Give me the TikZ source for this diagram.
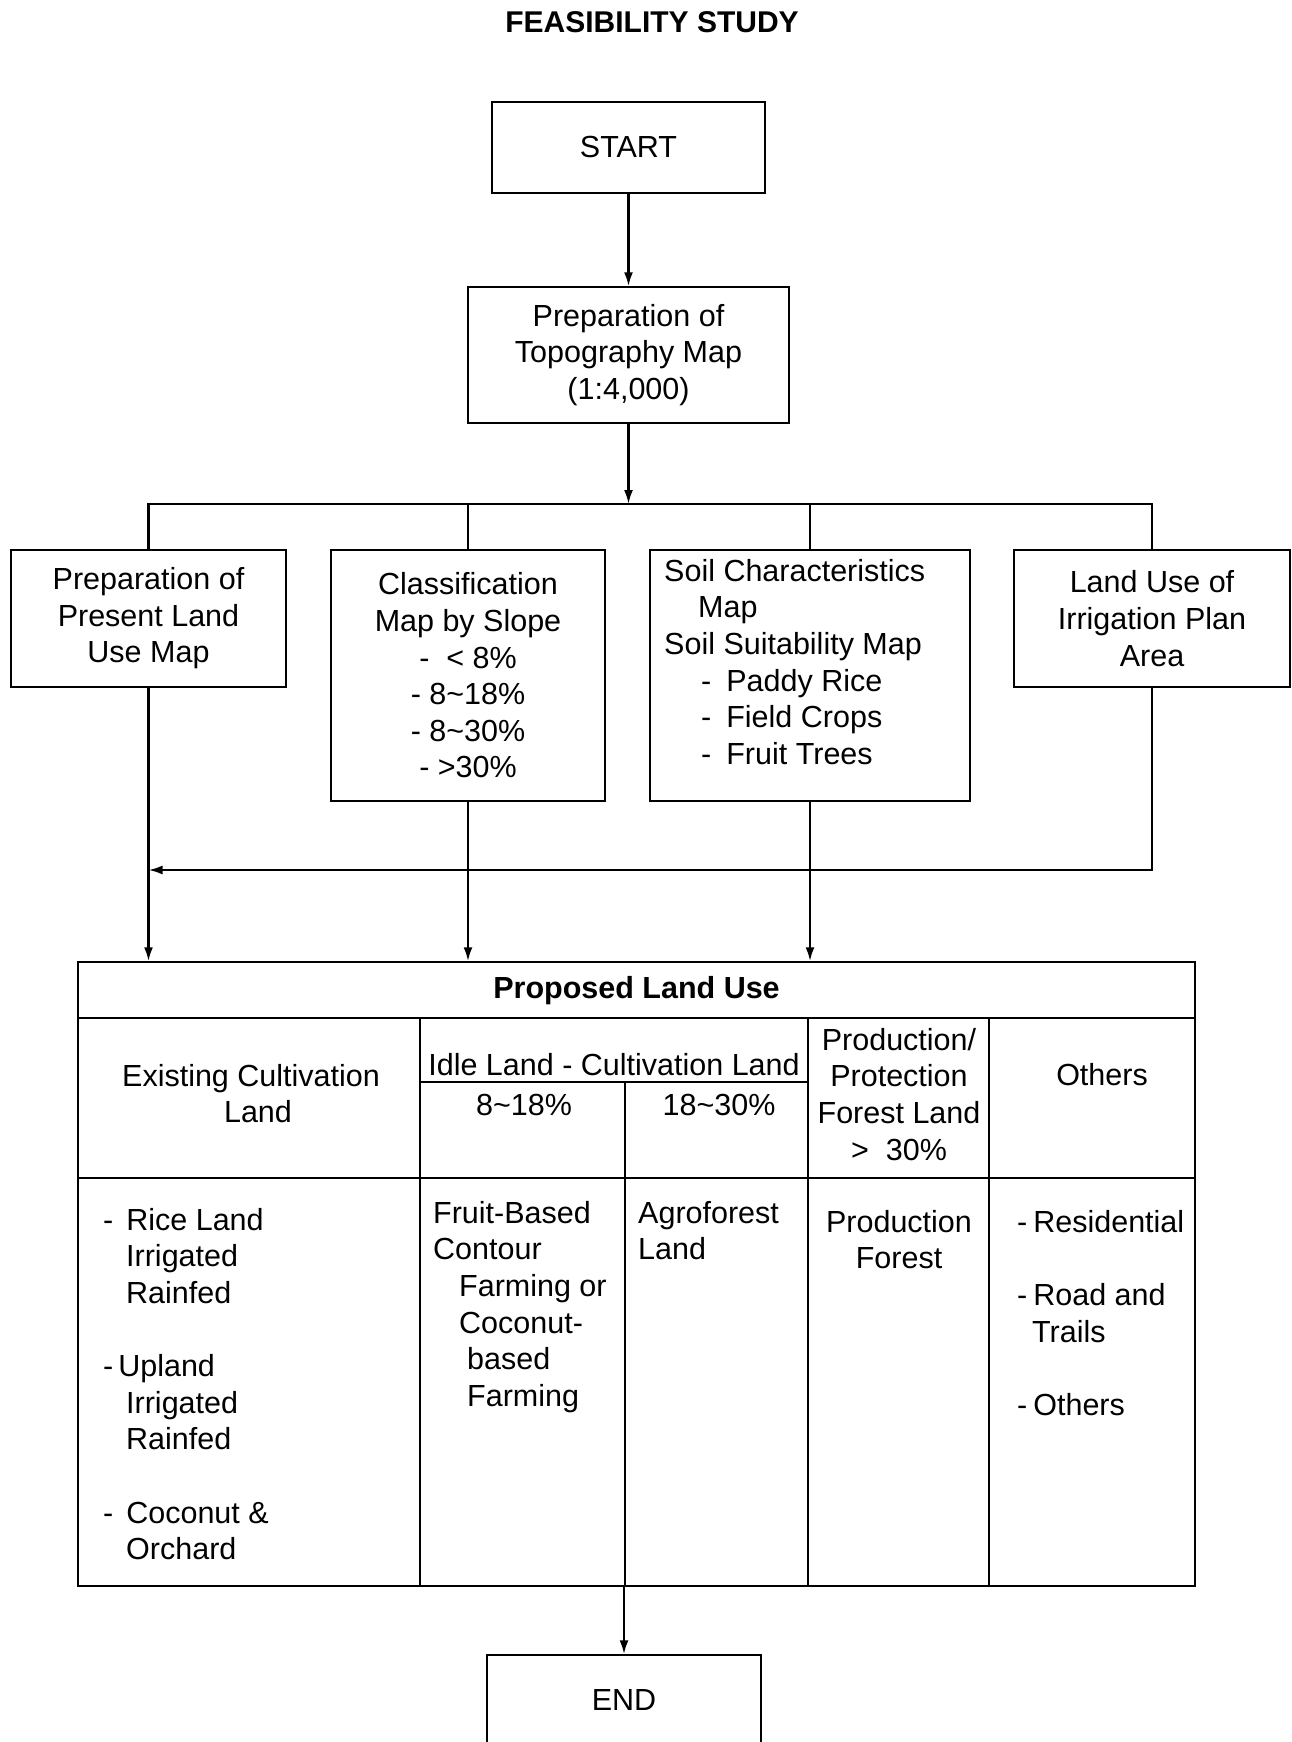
\documentclass[tikz,border=0pt]{standalone}
\usepackage{fontspec}
\setmainfont{Liberation Sans}
\usetikzlibrary{arrows.meta}
\newcommand{\mystrut}{\rule{0pt}{26pt}}
\begin{document}
\begin{tikzpicture}[x=1pt,y=-1pt,
  every node/.style={font=\fontsize{30.5}{36.6}\selectfont},
  box/.style={draw, line width=1.5pt, rectangle, inner sep=0pt, align=center},
  arr/.style={line width=2.3pt, -{Latex[length=14pt,width=9pt]}},
  conn/.style={line width=2.3pt},
  tline/.style={line width=1.5pt},
  txt/.style={inner sep=0pt},
  mlw/.style={inner sep=0pt, anchor=north west, align=left},
  mlc/.style={inner sep=0pt, anchor=north, align=center}]
\useasboundingbox (0,0) rectangle (1292,1742);

\node[txt, anchor=base, font=\fontsize{30}{34}\selectfont\bfseries] (title) at (652,33) {FEASIBILITY STUDY};

\node[box, minimum width=273pt, minimum height=91pt] (start) at (628.5,147.5) {START};
\node[box, minimum width=321pt, minimum height=136pt] (topo) at (628.5,355) {Preparation of\\Topography Map\\(1:4,000)};
\node[box, minimum width=275pt, minimum height=137pt] (boxA) at (148.5,618.5) {Preparation of\\Present Land\\Use Map};
\node[box, minimum width=274pt, minimum height=251pt] (boxB) at (468,675.5) {Classification\\Map by Slope\\-\ \ < 8\%\\- 8\textasciitilde 18\%\\- 8\textasciitilde 30\%\\- >30\%};
\node[box, minimum width=320pt, minimum height=251pt] (boxC) at (810,675.5) {};
\node[mlw] (boxCtext) at (664,555) {\mystrut Soil Characteristics\\\hspace*{34pt}Map\\Soil Suitability Map\\\hspace*{37pt}-\hspace*{15pt}Paddy Rice\\\hspace*{37pt}-\hspace*{15pt}Field Crops\\\hspace*{37pt}-\hspace*{15pt}Fruit Trees};
\node[box, minimum width=276pt, minimum height=137pt] (boxD) at (1152,618.5) {Land Use of\\Irrigation Plan\\Area};

\node[box, minimum width=1117pt, minimum height=624pt] (tbl) at (636.5,1274) {};
\node[box, minimum width=274pt, minimum height=90pt] (endn) at (624,1700) {END};

\coordinate (bus) at (628.5,504);
\coordinate (ret) at (0,870);

\draw[arr] (start.south) -- (topo.north);
\draw[arr] (topo.south) -- (topo.south |- bus);
\draw[conn] (boxA.north) -- (boxA.north |- bus) -- (boxD.north |- bus) -- (boxD.north);
\draw[conn] (boxB.north |- bus) -- (boxB.north);
\draw[conn] (boxC.north |- bus) -- (boxC.north);
\draw[arr] (boxD.south) -- (boxD.south |- ret) -- (boxA.south |- ret);
\draw[arr] (boxA.south) -- (boxA.south |- tbl.north);
\draw[arr] (boxB.south) -- (boxB.south |- tbl.north);
\draw[arr] (boxC.south) -- (boxC.south |- tbl.north);
\draw[arr] (tbl.south -| endn.north) -- (endn.north);

% table rules
\draw[tline] (78,1018) -- (1195,1018);
\draw[tline] (78,1178) -- (1195,1178);
\draw[tline] (420,1018) -- (420,1586);
\draw[tline] (808,1018) -- (808,1586);
\draw[tline] (989,1018) -- (989,1586);
\draw[tline] (420,1082) -- (808,1082);
\draw[tline] (625,1082) -- (625,1586);

% table texts
\node[txt, anchor=base] (hdr) at (636.5,998) {\bfseries Proposed Land Use};
\node[mlc] (c1h) at (251,1060) {\mystrut Existing Cultivation\\\hspace*{14pt}Land};
\node[txt, anchor=base] (c2h) at (614,1075) {Idle Land - Cultivation Land};
\node[txt, anchor=base] (c2a) at (524,1115) {8\textasciitilde 18\%};
\node[txt, anchor=base] (c2b) at (719,1115) {18\textasciitilde 30\%};
\node[mlc] (c4h) at (899,1024) {\mystrut Production/\\Protection\\Forest Land\\>\ \ 30\%};
\node[txt, anchor=base] (c5h) at (1102,1085) {Others};

\node[mlw] (c1b) at (103,1204) {\mystrut -\hspace*{13pt}Rice Land\\\hspace*{23pt}Irrigated\\\hspace*{23pt}Rainfed\\[36.6pt]-\hspace*{5pt}Upland\\\hspace*{23pt}Irrigated\\\hspace*{23pt}Rainfed\\[36.6pt]-\hspace*{13pt}Coconut \&\\\hspace*{23pt}Orchard};
\node[mlw] (c2c) at (433,1197) {\mystrut Fruit-Based\\Contour\\\hspace*{26pt}Farming or\\\hspace*{26pt}Coconut-\\\hspace*{34pt}based\\\hspace*{34pt}Farming};
\node[mlw] (c3c) at (638,1197) {\mystrut Agroforest\\Land};
\node[mlc] (c4c) at (899,1206) {\mystrut Production\\Forest};
\node[mlw] (c5c) at (1017,1206) {\mystrut -\hspace*{6pt}Residential\\[36.6pt]-\hspace*{6pt}Road and\\\hspace*{15pt}Trails\\[36.6pt]-\hspace*{6pt}Others};
\end{tikzpicture}
\end{document}
